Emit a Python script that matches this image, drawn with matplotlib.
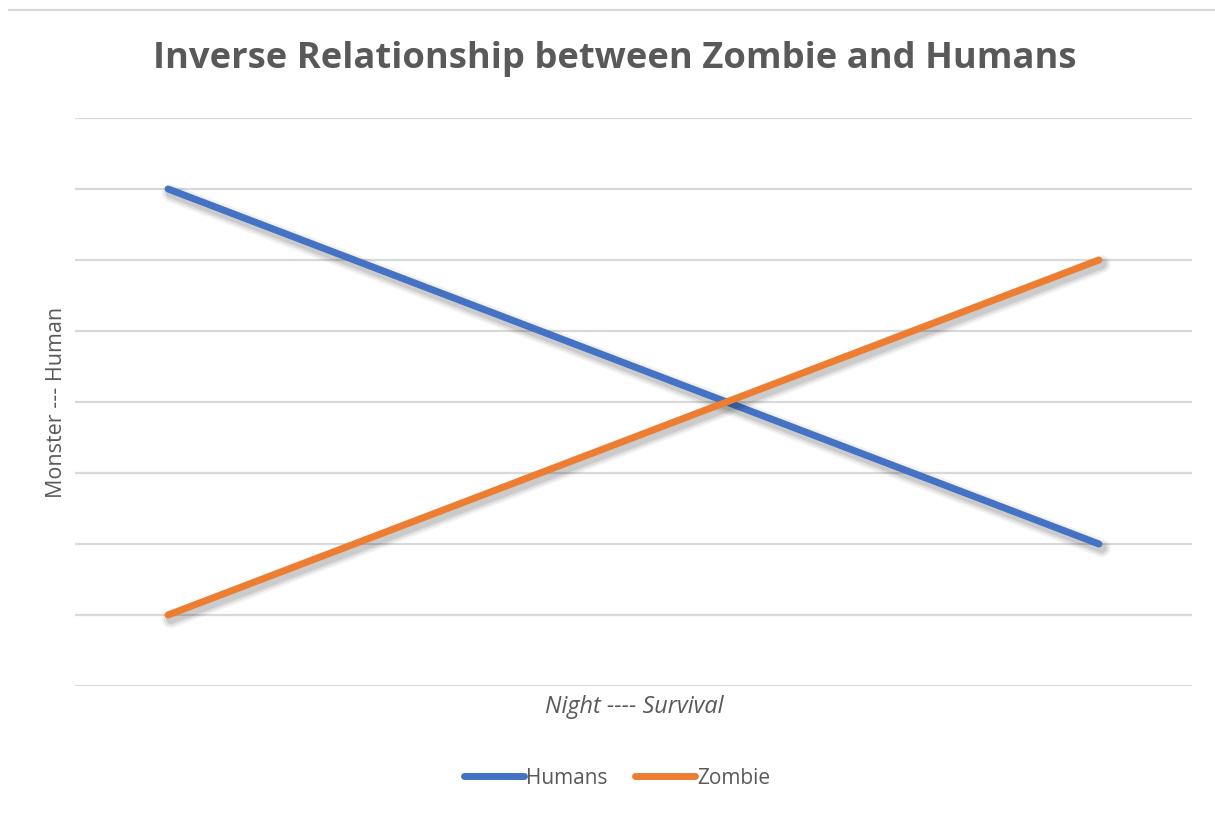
import matplotlib
matplotlib.use("Agg")
import matplotlib.pyplot as plt
import matplotlib.patheffects as pe
from matplotlib.lines import Line2D

# Data
x_vals = [1, 11]
humans = [7, 2]
zombie = [1, 6]
series_names = ["Humans", "Zombie"]
colors = ["#4472C4", "#ED7D31"]
title = "Inverse Relationship between Zombie and Humans"
xlabel = "Night ---- Survival"
ylabel = "Monster --- Human"

W, H = 1215, 814
fig = plt.figure(figsize=(W / 100, H / 100), dpi=100)
fig.patch.set_facecolor("white")

ax = fig.add_axes([75 / W, 1 - 686 / H, (1192 - 75) / W, (686 - 118) / H])
ax.set_xlim(0, 12)
ax.set_ylim(0, 8)
ax.set_yticks(range(0, 9))
ax.set_xticks([])
ax.tick_params(axis="y", length=0, labelleft=False)
for s in ax.spines.values():
    s.set_visible(False)
ax.grid(axis="y", color="#D9D9D9", linewidth=1.6)
ax.set_axisbelow(True)

shadow = [
    pe.SimpleLineShadow(offset=(2, -3), shadow_color="k", alpha=0.05, linewidth=13),
    pe.SimpleLineShadow(offset=(2, -3), shadow_color="k", alpha=0.07, linewidth=10),
    pe.SimpleLineShadow(offset=(2, -3), shadow_color="k", alpha=0.09, linewidth=7),
    pe.Normal(),
]
for yv, c in zip([humans, zombie], colors):
    ax.plot(x_vals, yv, color=c, linewidth=5, solid_capstyle="round",
            path_effects=shadow, zorder=3)

# Top border line
fig.add_artist(Line2D([9 / W, 1.0], [1 - 10 / H, 1 - 10 / H], color="#D9D9D9",
                      linewidth=1.6, transform=fig.transFigure))

fig.text(615 / W, 1 - 59 / H, title, ha="center", va="center",
         fontsize=26.2, fontweight="bold", color="#595959", family="Open Sans")
fig.text(57 / W, 1 - 402 / H, ylabel, ha="center", va="center", rotation=90,
         fontsize=15.5, color="#595959", family="Open Sans")
fig.text(634 / W, 1 - 707 / H, xlabel, ha="center", va="center",
         fontsize=16.8, color="#595959", family="Open Sans", style="italic")

handles = [Line2D([0], [0], color=c, linewidth=5, solid_capstyle="round") for c in colors]
fig.legend(handles, series_names, loc="center", bbox_to_anchor=(617 / W, 1 - 778 / H),
           ncol=2, frameon=False, handlelength=2.9, handletextpad=0.1,
           columnspacing=1.3, prop={"family": "Open Sans", "size": 15}, labelcolor="#595959")

fig.savefig("out.png", dpi=100, facecolor="white")
